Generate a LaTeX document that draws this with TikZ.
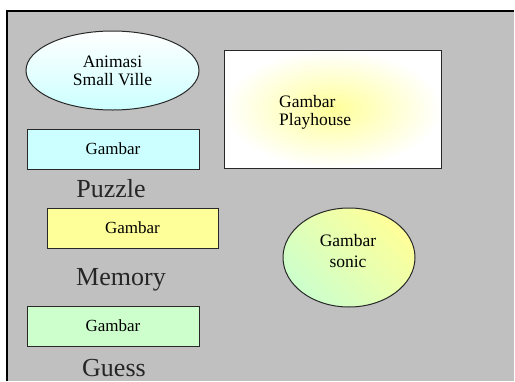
\documentclass[tikz,border=0pt]{standalone}
\usepackage{fontspec}
\setmainfont{Liberation Serif}
\usetikzlibrary{shapes.geometric}
\definecolor{bggray}{RGB}{192,192,192}
\definecolor{lcyan}{RGB}{204,255,255}
\definecolor{lyellow}{RGB}{255,255,153}
\definecolor{lgreen}{RGB}{204,255,204}
\definecolor{edge}{RGB}{40,40,40}
\begin{document}
\begin{tikzpicture}[x=1pt,y=-1pt,
  shapeline/.style={draw=edge,line width=1pt},
  gbox/.style={shapeline,rectangle,minimum width=172pt,minimum height=40pt,inner sep=0pt,font=\fontsize{17}{18}\selectfont},
  biglabel/.style={anchor=base,inner sep=0pt,text=black!85,font=\fontsize{26}{28}\selectfont},
  smalltext/.style={inner sep=0pt,align=center,font=\fontsize{17.5}{18}\selectfont}]
\useasboundingbox (0,0) rectangle (515,381);
\fill[white] (0,0) rectangle (515,381);
\fill[bggray] (7,10.5) rectangle (514,381);
\draw[black,line width=2pt] (7,381) -- (7,10.5) -- (514,10.5);
% ellipse Animasi
\node[shapeline,ellipse,minimum width=173pt,minimum height=79pt,inner sep=0pt,
  top color=white,bottom color=lcyan] (anim) at (112.5,70.5) {};
\node[smalltext] (animtxt) at (anim.center) {Animasi\\Small Ville};
% boxes
\node[gbox,fill=lcyan] (boxp) at (113,149) {Gambar};
\node[biglabel] (puzzle) at (111,197) {Puzzle};
\node[gbox,fill=lyellow,minimum width=171pt] (boxm) at (132.5,228) {Gambar};
\node[biglabel] (memory) at (121,285) {Memory};
\node[gbox,fill=lgreen] (boxg) at (113,326) {Gambar};
\node[biglabel] (guess) at (114,376) {Guess};
% playhouse
\node[shapeline,rectangle,minimum width=217pt,minimum height=118pt,inner sep=0pt,
  inner color=lyellow,outer color=white] (play) at (332.5,109) {};
\node[smalltext,align=left,anchor=west] (playtxt) at (279,112) {Gambar\\Playhouse};
% sonic
\node[shapeline,ellipse,minimum width=132pt,minimum height=99pt,inner sep=0pt,
  top color=lyellow,bottom color=lgreen,shading angle=-45] (sonic) at (349,257.5) {};
\node[smalltext,font=\fontsize{17.5}{21}\selectfont] (sonictxt) at (348,251) {Gambar\\sonic};
\end{tikzpicture}
\end{document}
